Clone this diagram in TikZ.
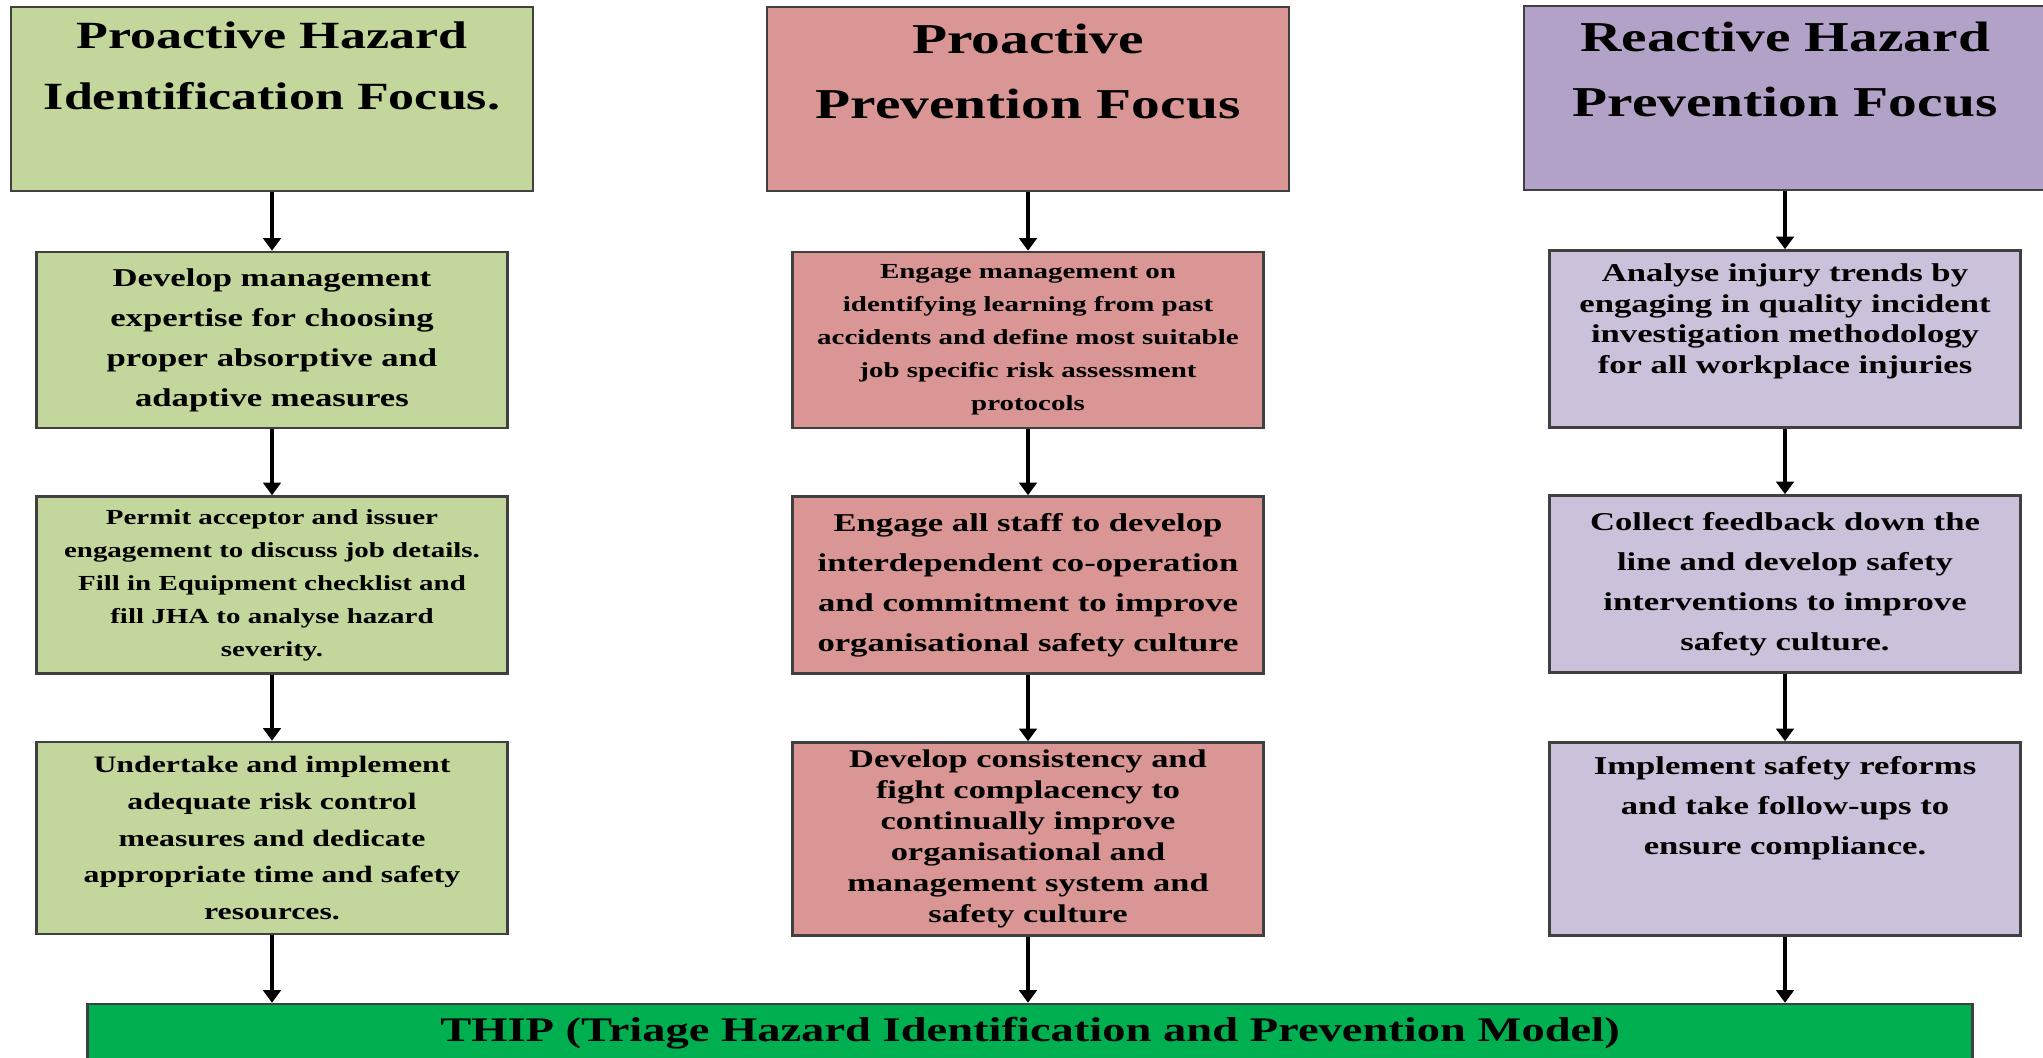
\documentclass[tikz,border=0pt]{standalone}
\usepackage{fontspec}
\setmainfont{Liberation Serif}[FakeStretch=1.35]
\usetikzlibrary{arrows.meta}

\definecolor{hzgreen}{HTML}{C3D69B}
\definecolor{hzred}{HTML}{D99694}
\definecolor{hzpurple}{HTML}{B3A2C7}
\definecolor{hzlilac}{HTML}{CCC1DA}
\definecolor{thipgreen}{HTML}{00B050}
\definecolor{boxline}{HTML}{404040}

\newcommand{\hzfont}[2]{\bfseries\fontsize{#1}{#2}\selectfont}

\begin{document}
\begin{tikzpicture}[x=0.01cm,y=-0.01cm]
                \tikzstyle{box}=[rectangle,draw=boxline,line width=0.7pt,align=center,inner sep=0pt]
                \tikzstyle{head}=[box,minimum width=5.22cm,minimum height=1.84cm]
                \tikzstyle{stage}=[box,minimum width=4.71cm]
                \tikzstyle{caption}=[anchor=north,align=center,inner sep=0pt]
                \tikzstyle{flow}=[-{Triangle[length=3.6pt,width=5pt]},line width=1.2pt,black]
                        \useasboundingbox (0,0) rectangle (2043,1058);
                        \clip (0,0) rectangle (2043,1058);
                        % column heads
                        \node[head,fill=hzgreen] (G-0) at (272,99){};
                        \node[head,fill=hzred] (R-0) at (1028,99){};
                        \node[head,fill=hzpurple] (P-0) at (1785,98){};
                        \node[caption,font=\hzfont{10.95}{17.4}] (G-0-text) at (272,21){Proactive Hazard\\Identification Focus.};
                        \node[caption,font=\hzfont{12.1}{18.5}] (R-0-text) at (1028,23){Proactive\\Prevention Focus};
                        \node[caption,font=\hzfont{12.1}{18.5}] (P-0-text) at (1785,21){Reactive Hazard\\Prevention Focus};
                        % green column
                        \node[stage,fill=hzgreen,minimum height=1.76cm,font=\hzfont{7.3}{11.4}] (G-1) at (272,340){Develop management\\expertise for choosing\\proper absorptive and\\adaptive measures};
                        \node[stage,fill=hzgreen,minimum height=1.77cm,font=\hzfont{6.1}{9.4}] (G-2) at (272,585){Permit acceptor and issuer\\engagement to discuss job details.\\Fill in Equipment checklist and\\fill JHA to analyse hazard\\severity.};
                        \node[stage,fill=hzgreen,minimum height=1.92cm,font=\hzfont{6.7}{10.5}] (G-3) at (272,838){Undertake and implement\\adequate risk control\\measures and dedicate\\appropriate time and safety\\resources.};
                        % red column
                        \node[stage,fill=hzred,minimum height=1.76cm,font=\hzfont{6.1}{9.4}] (R-1) at (1028,340){Engage management on\\identifying learning from past\\accidents and define most suitable\\job specific risk assessment\\protocols};
                        \node[stage,fill=hzred,minimum height=1.77cm,font=\hzfont{7.3}{11.4}] (R-2) at (1028,585){Engage all staff to develop\\interdependent co-operation\\and commitment to improve\\organisational safety culture};
                        \node[stage,fill=hzred,minimum height=1.93cm,font=\hzfont{7.25}{8.8}] (R-3) at (1028,839){Develop consistency and\\fight complacency to\\continually improve\\organisational and\\management system and\\safety culture};
                        % purple column
                        \node[stage,fill=hzlilac,minimum height=1.77cm] (P-1) at (1785,339){};
                        \node[caption,font=\hzfont{7.3}{8.7}] (P-1-text) at (1785,263){Analyse injury trends by\\engaging in quality incident\\investigation methodology\\for all workplace injuries};
                        \node[stage,fill=hzlilac,minimum height=1.77cm,font=\hzfont{7.3}{11.4}] (P-2) at (1785,584){Collect feedback down the\\line and develop safety\\interventions to improve\\safety culture.};
                        \node[stage,fill=hzlilac,minimum height=1.93cm] (P-3) at (1785,839){};
                        \node[caption,font=\hzfont{7.3}{11.4}] (P-3-text) at (1785,756){Implement safety reforms\\and take follow-ups to\\ensure compliance.};
                        % model bar
                        \node[box,fill=thipgreen,minimum width=18.84cm,minimum height=0.58cm,font=\hzfont{9.8}{12}] (T) at (1030,1033){THIP (Triage Hazard Identification and Prevention Model)};

                    \foreach \col in {G,R,P}
                    {
                        \foreach \from/\to in {0/1, 1/2, 2/3}
                            \draw[flow] (\col-\from) -- (\col-\to);
                        \draw[flow] (\col-3.south) -- (\col-3.south |- T.north);
                    }
            \end{tikzpicture}
\end{document}
